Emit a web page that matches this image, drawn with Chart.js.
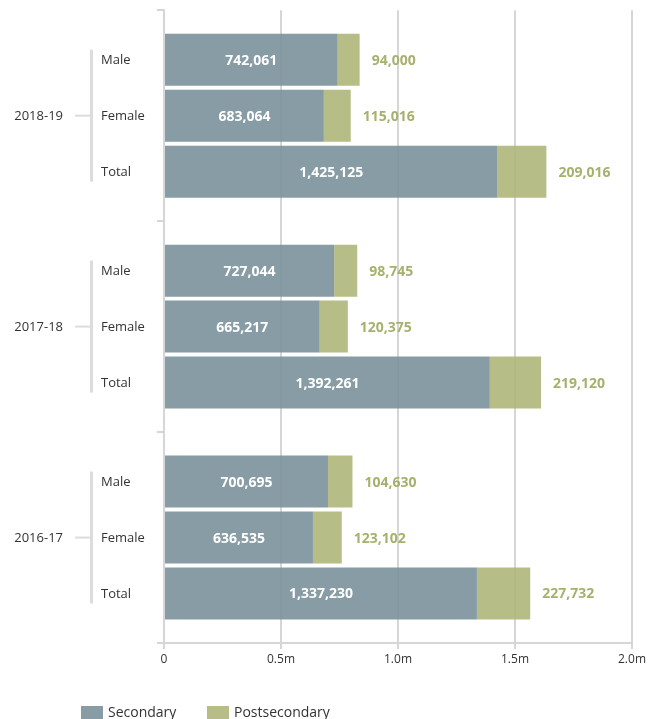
<!DOCTYPE html>
<html>
<head>
<meta charset="utf-8">
<script src="https://cdn.jsdelivr.net/npm/chart.js@4/dist/chart.umd.min.js"></script>
<style>
  html, body { margin: 0; padding: 0; background: #fff; }
  #wrap { width: 662px; height: 719px; position: relative; }
</style>
</head>
<body>
<div id="wrap"><canvas id="c"></canvas></div>
<script>
const years = ['2018-19', '2017-18', '2016-17'];
const groups = ['Male', 'Female', 'Total'];
const seriesNames = ['Secondary', 'Postsecondary'];
const secondaryMale = [742061, 727044, 700695];
const secondaryFemale = [683064, 665217, 636535];
const secondaryTotal = [1425125, 1392261, 1337230];
const postMale = [94000, 98745, 104630];
const postFemale = [115016, 120375, 123102];
const postTotal = [209016, 219120, 227732];
const xTickValues = [0, 500000, 1000000, 1500000, 2000000];
const xTickLabels = ['0', '0.5m', '1.0m', '1.5m', '2.0m'];

const secondaryByGroup = [secondaryMale, secondaryFemale, secondaryTotal];
const postByGroup = [postMale, postFemale, postTotal];

const SEC_COLOR = 'rgba(122,145,155,0.9)';
const POST_COLOR = 'rgba(175,182,122,0.9)';
const SEC_SWATCH = '#879ca5';
const POST_SWATCH = '#b8bd87';
const POST_TEXT = '#a8b06e';
const GRID = '#d6d6d6';
const FONT = "'Open Sans', 'Noto Sans', sans-serif";

const datasets = [];
groups.forEach((g, gi) => {
  datasets.push({ label: seriesNames[0], data: secondaryByGroup[gi], stack: g, backgroundColor: SEC_COLOR, kind: 'sec', group: g });
  datasets.push({ label: seriesNames[1], data: postByGroup[gi], stack: g, backgroundColor: POST_COLOR, kind: 'post', group: g });
});

const fmt = v => v.toLocaleString('en-US');

const labelPlugin = {
  id: 'labels',
  afterDatasetsDraw(chart) {
    const ctx = chart.ctx;
    ctx.save();
    ctx.font = 'bold 14px ' + FONT;
    ctx.textBaseline = 'middle';
    chart.data.datasets.forEach((ds, di) => {
      const meta = chart.getDatasetMeta(di);
      meta.data.forEach((el, i) => {
        const v = ds.data[i];
        if (ds.kind === 'sec') {
          ctx.fillStyle = '#ffffff';
          ctx.textAlign = 'center';
          ctx.fillText(fmt(v), (el.base + el.x) / 2, el.y + 1);
        } else {
          ctx.fillStyle = POST_TEXT;
          ctx.textAlign = 'left';
          ctx.fillText(fmt(v), el.x + 12, el.y + 1);
        }
      });
    });
    ctx.restore();
  },
  afterDraw(chart) {
    const ctx = chart.ctx;
    const yScale = chart.scales.y;
    ctx.save();
    // group labels (Male/Female/Total)
    ctx.font = '13px ' + FONT;
    ctx.fillStyle = '#333';
    ctx.textBaseline = 'middle';
    ctx.textAlign = 'left';
    groups.forEach((g, gi) => {
      const meta = chart.getDatasetMeta(gi * 2);
      meta.data.forEach(el => {
        ctx.fillText(g, 101, el.y + 1);
      });
    });
    // year labels and brackets
    years.forEach((yr, i) => {
      const cy = yScale.getPixelForValue(i);
      const top = chart.getDatasetMeta(0).data[i].y;
      const bot = chart.getDatasetMeta(4).data[i].y;
      ctx.strokeStyle = '#dcdcdc';
      ctx.lineWidth = 3;
      ctx.beginPath();
      ctx.moveTo(91.5, top - 10);
      ctx.lineTo(91.5, bot + 10);
      ctx.stroke();
      ctx.lineWidth = 2;
      ctx.beginPath();
      ctx.moveTo(75, cy);
      ctx.lineTo(91, cy);
      ctx.stroke();
      ctx.fillStyle = '#333';
      ctx.textAlign = 'right';
      ctx.fillText(yr, 63, cy + 1);
    });
    // legend
    ctx.font = '14px ' + FONT;
    ctx.textAlign = 'left';
    ctx.fillStyle = SEC_SWATCH;
    ctx.fillRect(81, 706, 22, 14);
    ctx.fillStyle = '#333';
    ctx.fillText(seriesNames[0], 108, 713);
    ctx.fillStyle = POST_SWATCH;
    ctx.fillRect(207, 706, 22, 14);
    ctx.fillStyle = '#333';
    ctx.fillText(seriesNames[1], 234, 713);
    ctx.restore();
  }
};

new Chart(document.getElementById('c'), {
  type: 'bar',
  data: { labels: years, datasets },
  options: {
    indexAxis: 'y',
    responsive: true,
    maintainAspectRatio: false,
    animation: false,
    categoryPercentage: 0.796,
    barPercentage: 0.929,
    layout: { padding: { top: 10, right: 30, bottom: 50, left: 0 } },
    plugins: {
      legend: { display: false },
      tooltip: { enabled: false }
    },
    scales: {
      x: {
        stacked: true,
        min: 0,
        max: 2000000,
        afterBuildTicks(scale) { scale.ticks = xTickValues.map(v => ({ value: v })); },
        afterFit(scale) { scale.height = 26; },
        ticks: {
          padding: 3,
          color: '#333',
          font: { family: FONT, size: 12 },
          callback: (v, i) => xTickLabels[i]
        },
        grid: { color: GRID, lineWidth: 2, tickLength: 6 },
        border: { color: GRID, width: 2 }
      },
      y: {
        stacked: true,
        afterFit(scale) { scale.width = 164; },
        ticks: { callback: () => '' },
        grid: { offset: true, drawOnChartArea: false, color: GRID, lineWidth: 2, tickLength: 7 },
        border: { color: GRID, width: 2 }
      }
    }
  },
  plugins: [labelPlugin]
});
</script>
</body>
</html>
